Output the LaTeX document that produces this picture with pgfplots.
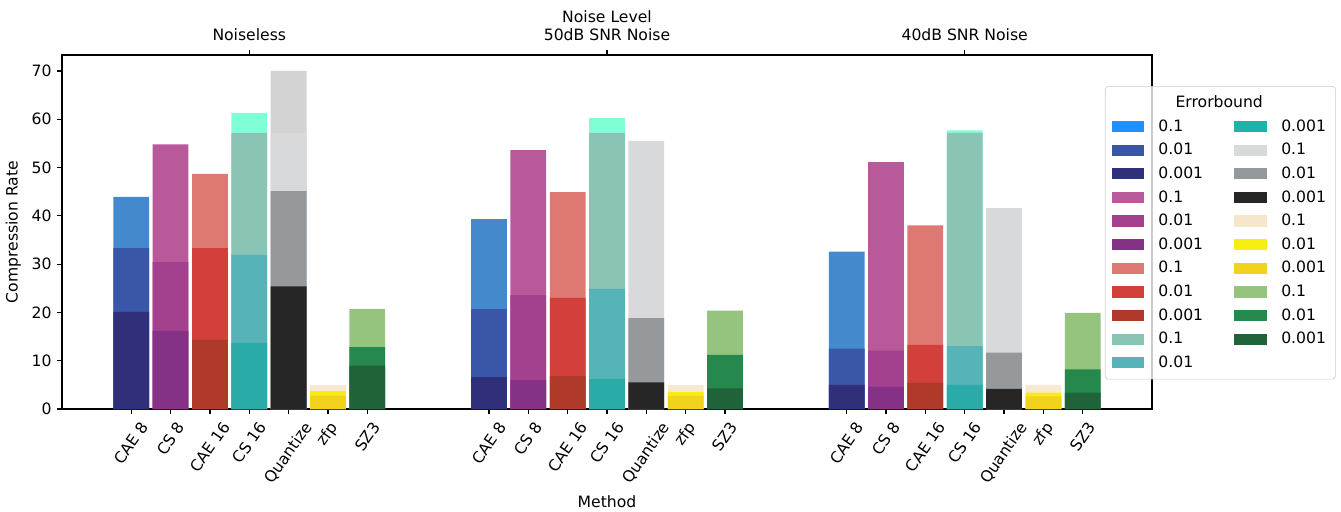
\documentclass[border=0pt]{standalone}
\usepackage{fontspec}
\setmainfont{DejaVu Sans}
\usepackage{pgfplots}
\usepackage{pgfplotstable}
\pgfplotsset{compat=1.18}

% bar colours (as they appear)
\definecolor{caeA}{HTML}{4489CC}\definecolor{caeB}{HTML}{3A56A8}\definecolor{caeC}{HTML}{30307A}
\definecolor{csA}{HTML}{B8599A}\definecolor{csB}{HTML}{A3418E}\definecolor{csC}{HTML}{853185}
\definecolor{cbA}{HTML}{DD7873}\definecolor{cbB}{HTML}{D33F3A}\definecolor{cbC}{HTML}{B03A2A}
\definecolor{cdX}{HTML}{80FFD6}\definecolor{cdA}{HTML}{8AC4B4}\definecolor{cdB}{HTML}{56B4B9}\definecolor{cdC}{HTML}{2AABA7}
\definecolor{qX}{HTML}{D3D3D3}\definecolor{qA}{HTML}{D8D9DA}\definecolor{qB}{HTML}{96999B}\definecolor{qC}{HTML}{262626}
\definecolor{zA}{HTML}{F7E8D0}\definecolor{zB}{HTML}{F5EE10}\definecolor{zC}{HTML}{F3D21E}
\definecolor{sA}{HTML}{95C47F}\definecolor{sB}{HTML}{25894E}\definecolor{sC}{HTML}{20623A}
% legend-only colours
\definecolor{caeL}{HTML}{1E90FF}\definecolor{cdL}{HTML}{20B2AA}\definecolor{zL}{HTML}{F5E6CC}
\definecolor{legframe}{HTML}{CCCCCC}

% g = noise level group; A = 0.1, B = 0.01, C = 0.001, X = extra top layer
\pgfplotstableread{
g  caeA caeB caeC csA  csB  csC  cbA  cbB  cbC  cdX  cdA  cdB  cdC  qX   qA   qB   qC   zA   zB  zC  sA   sB   sC
0  43.9 33.3 20.1 54.8 30.4 16.2 48.7 33.3 14.3 61.3 57.2 31.9 13.7 70.0 57.1 45.1 25.4 4.97 3.7 2.8 20.7 12.8 9.0
1  39.3 20.7 6.6  53.6 23.6 6.0  44.9 23.0 6.8  60.3 57.2 24.9 6.2  0    55.5 18.8 5.5  4.97 3.5 2.7 20.4 11.2 4.3
2  32.6 12.5 5.0  51.1 12.1 4.6  38.0 13.3 5.4  57.7 57.2 13.0 5.0  0    41.6 11.7 4.2  5.0  3.4 2.6 19.9 8.2  3.4
}\data

\newcommand{\bars}[2]{\addplot[ybar, bar width=0.1, bar shift=0pt, fill=#2, draw=none, forget plot]
  table[x expr=\thisrow{g}+#1, y=#2]{\data};}
\newcommand{\R}[1]{\rotatebox{55}{#1}}

\begin{document}
\begin{tikzpicture}
\begin{axis}[
  scale only axis, width=697.6pt, height=226.6pt,
  xmin=-0.5235, xmax=2.5235, ymin=0, ymax=73.3,
  ytick={0,10,...,70},
  xtick={-0.33,-0.22,-0.11,0,0.11,0.22,0.33,0.67,0.78,0.89,1,1.11,1.22,1.33,1.67,1.78,1.89,2,2.11,2.22,2.33},
  xticklabels={\R{CAE 8},\R{CS 8},\R{CAE 16},\R{CS 16},\R{Quantize},\R{zfp},\R{SZ3},
               \R{CAE 8},\R{CS 8},\R{CAE 16},\R{CS 16},\R{Quantize},\R{zfp},\R{SZ3},
               \R{CAE 8},\R{CS 8},\R{CAE 16},\R{CS 16},\R{Quantize},\R{zfp},\R{SZ3}},
  xticklabel style={anchor=north, inner sep=1pt, yshift=-3pt},
  tick pos=left, tick align=outside, major tick length=3.2pt,
  every tick/.style={black, line width=0.8pt},
  axis line style={line width=0.8pt},
  /pgf/number format/assume math mode=true,
  xlabel={Method}, xlabel style={yshift=-2pt}, ylabel={Compression Rate},
  legend image code/.code={\fill[#1, draw=none, fill opacity=1, sharp corners] (0pt,-3.6pt) rectangle (21pt,3.6pt);},
  legend columns=12, transpose legend,
  legend cell align=left,
  legend style={at={(rel axis cs:0.9569,0.9124)}, anchor=north west,
    fill=white, fill opacity=0.8, text opacity=1, draw=legframe, rounded corners=2pt,
    row sep=2.2pt, inner sep=4pt,
    /tikz/every odd column/.append style={column sep=7pt},
    /tikz/every even column/.append style={column sep=18pt}},
]
% extra top layers
\bars{0}{cdX}
\bars{0.11}{qX}
% 0.1
\bars{-0.33}{caeA}\bars{-0.22}{csA}\bars{-0.11}{cbA}\bars{0}{cdA}\bars{0.11}{qA}\bars{0.22}{zA}\bars{0.33}{sA}
% 0.01
\bars{-0.33}{caeB}\bars{-0.22}{csB}\bars{-0.11}{cbB}\bars{0}{cdB}\bars{0.11}{qB}\bars{0.22}{zB}\bars{0.33}{sB}
% 0.001
\bars{-0.33}{caeC}\bars{-0.22}{csC}\bars{-0.11}{cbC}\bars{0}{cdC}\bars{0.11}{qC}\bars{0.22}{zC}\bars{0.33}{sC}

\addlegendimage{empty legend}\addlegendentry{\hspace{11pt}\rlap{Errorbound}}
\addlegendimage{fill=caeL}\addlegendentry{0.1}
\addlegendimage{fill=caeB}\addlegendentry{0.01}
\addlegendimage{fill=caeC}\addlegendentry{0.001}
\addlegendimage{fill=csA}\addlegendentry{0.1}
\addlegendimage{fill=csB}\addlegendentry{0.01}
\addlegendimage{fill=csC}\addlegendentry{0.001}
\addlegendimage{fill=cbA}\addlegendentry{0.1}
\addlegendimage{fill=cbB}\addlegendentry{0.01}
\addlegendimage{fill=cbC}\addlegendentry{0.001}
\addlegendimage{fill=cdA}\addlegendentry{0.1}
\addlegendimage{fill=cdB}\addlegendentry{0.01}
\addlegendimage{empty legend}\addlegendentry{}
\addlegendimage{fill=cdL}\addlegendentry{0.001}
\addlegendimage{fill=qA}\addlegendentry{0.1}
\addlegendimage{fill=qB}\addlegendentry{0.01}
\addlegendimage{fill=qC}\addlegendentry{0.001}
\addlegendimage{fill=zL}\addlegendentry{0.1}
\addlegendimage{fill=zB}\addlegendentry{0.01}
\addlegendimage{fill=zC}\addlegendentry{0.001}
\addlegendimage{fill=sA}\addlegendentry{0.1}
\addlegendimage{fill=sB}\addlegendentry{0.01}
\addlegendimage{fill=sC}\addlegendentry{0.001}
\addlegendimage{empty legend}\addlegendentry{}
\end{axis}
\begin{axis}[
  scale only axis, width=697.6pt, height=226.6pt,
  xmin=-0.5235, xmax=2.5235, ymin=0, ymax=73.3,
  axis x line*=top, axis y line=none,
  xtick={0,1,2},
  xticklabels={Noiseless,50dB SNR Noise,40dB SNR Noise},
  xticklabel style={yshift=2.5pt},
  tick align=outside, major tick length=3.2pt,
  every tick/.style={black, line width=0.8pt},
  axis line style={line width=0.8pt},
  xlabel={Noise Level}, xlabel style={yshift=-3.5pt},
]
\end{axis}
\pgfresetboundingbox
\path[use as bounding box] (-39.7pt,-65.3pt) rectangle (818.6pt,261.8pt);
\end{tikzpicture}
\end{document}
